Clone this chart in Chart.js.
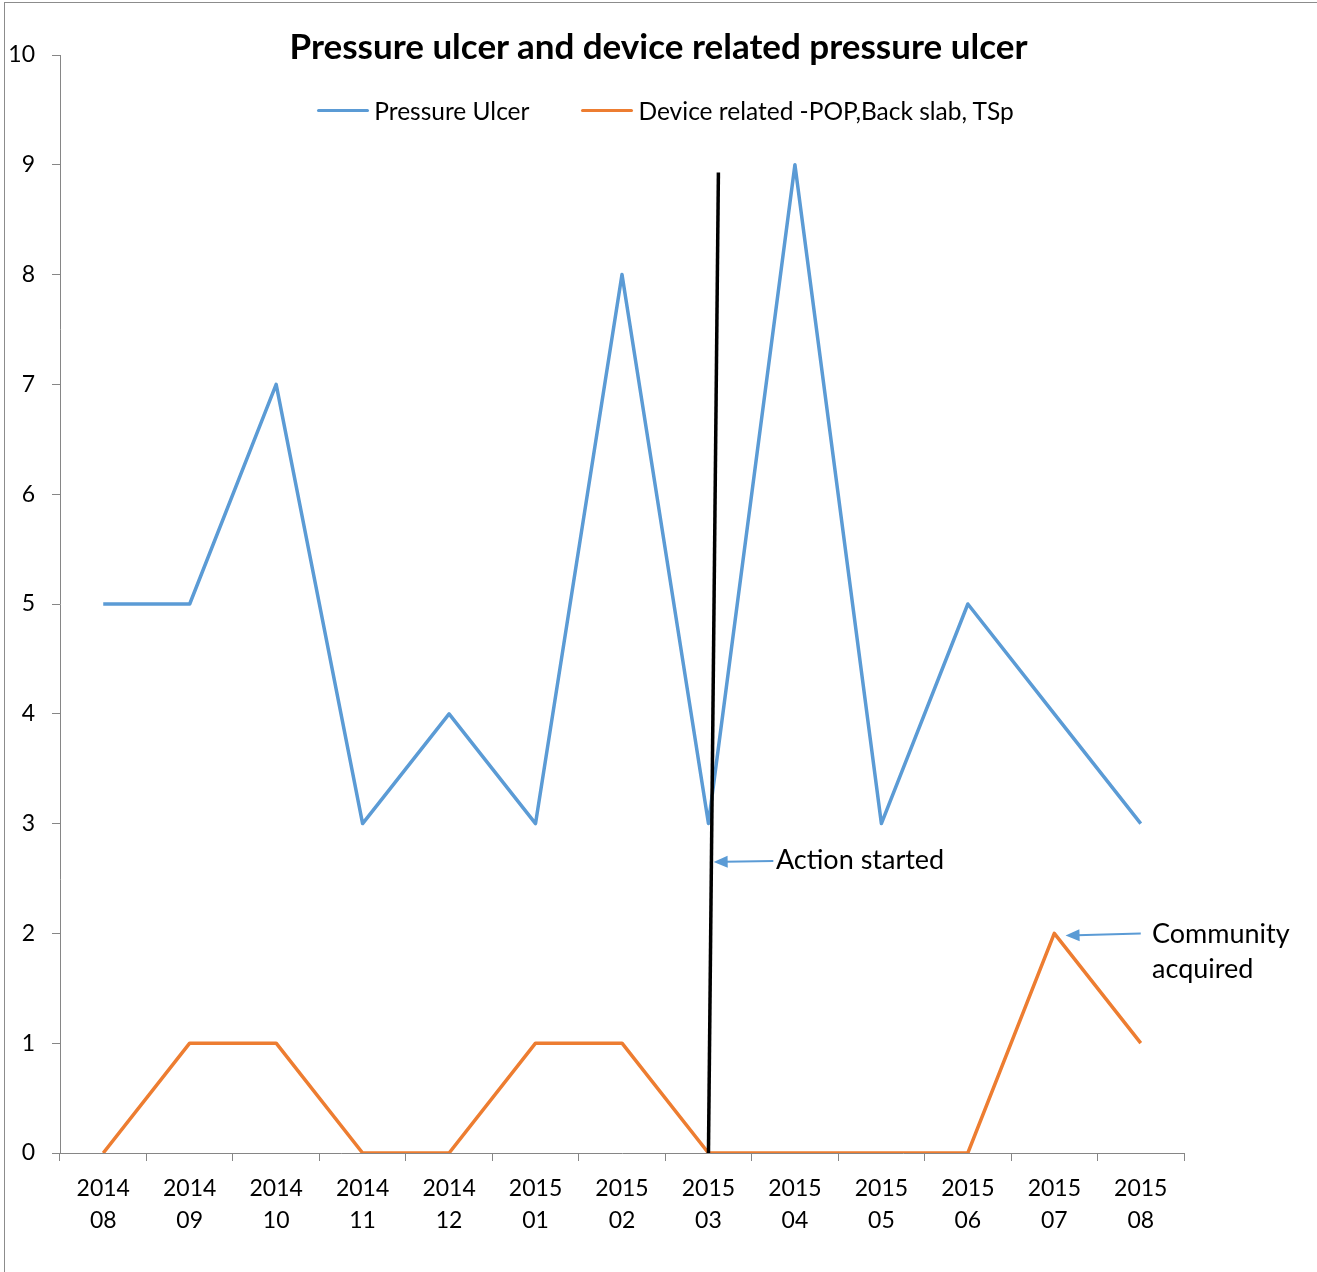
<!DOCTYPE html>
<html>
<head>
<meta charset="utf-8">
<script src="https://cdn.jsdelivr.net/npm/chart.js@4.4.0/dist/chart.umd.min.js"></script>
<style>
  body { margin: 0; background: #fff; font-family: Lato, sans-serif; }
  #wrap { position: relative; width: 1317px; height: 1272px; }
  #frame { position: absolute; left: 4px; top: 2px; right: 0; bottom: 0; border-top: 1px solid #8c8c8c; border-left: 1px solid #8c8c8c; pointer-events: none; }
  #title { position: absolute; top: 24px; left: 0; width: 1317px; text-align: center; font-weight: bold; font-size: 35px; color: #000; }
  #legend { position: absolute; top: 96px; left: 7px; width: 1317px; display: flex; justify-content: center; gap: 52px; font-size: 24.5px; color: #000; }
  .item { display: flex; align-items: center; }
  .swatch { width: 52px; height: 3px; margin-right: 5px; border-radius: 2px; }
</style>
</head>
<body>
<div id="wrap">
  <canvas id="chart" width="1317" height="1272"></canvas>
  <div id="frame"></div>
  <div id="title">Pressure ulcer and device related pressure ulcer</div>
  <div id="legend"></div>
</div>
<script>
// categories (year / month)
const months = [
  ['2014', '08'], ['2014', '09'], ['2014', '10'], ['2014', '11'], ['2014', '12'],
  ['2015', '01'], ['2015', '02'], ['2015', '03'], ['2015', '04'], ['2015', '05'],
  ['2015', '06'], ['2015', '07'], ['2015', '08']
];
const pressureUlcer = [5, 5, 7, 3, 4, 3, 8, 3, 9, 3, 5, 4, 3];
const deviceRelated = [0, 1, 1, 0, 0, 1, 1, 0, 0, 0, 0, 2, 1];
const seriesNames = ['Pressure Ulcer', 'Device related -POP,Back slab, TSp'];
const seriesColors = ['#5B9BD5', '#ED7D31'];
const yMin = 0, yMax = 10, yStep = 1;

// annotations, in data units (category index, value)
const actionLineX = [7, 7.115];
const actionLineY = [0, 8.93];
const actionArrowX = [7.75, 7.06];
const actionArrowY = [2.66, 2.65];
const actionText = 'Action started';
const actionTextPos = [7.78, 2.67];
const communityArrowX = [12.0, 11.13];
const communityArrowY = [2.0, 1.98];
const communityText = ['Community', 'acquired'];
const communityTextPos = [12.13, 1.99, 1.67];

// html legend
const legendBox = document.getElementById('legend');
seriesNames.forEach((name, i) => {
  const item = document.createElement('div');
  item.className = 'item';
  item.innerHTML = `<span class="swatch" style="background:${seriesColors[i]}"></span><span>${name}</span>`;
  legendBox.appendChild(item);
});

function drawArrow(ctx, x0, y0, x1, y1, color) {
  const ang = Math.atan2(y1 - y0, x1 - x0);
  const len = 14, half = 6;
  ctx.strokeStyle = color;
  ctx.fillStyle = color;
  ctx.lineWidth = 2;
  ctx.beginPath();
  ctx.moveTo(x0, y0);
  ctx.lineTo(x1 - Math.cos(ang) * len * 0.8, y1 - Math.sin(ang) * len * 0.8);
  ctx.stroke();
  ctx.beginPath();
  ctx.moveTo(x1, y1);
  ctx.lineTo(x1 - Math.cos(ang) * len + Math.sin(ang) * half, y1 - Math.sin(ang) * len - Math.cos(ang) * half);
  ctx.lineTo(x1 - Math.cos(ang) * len - Math.sin(ang) * half, y1 - Math.sin(ang) * len + Math.cos(ang) * half);
  ctx.closePath();
  ctx.fill();
}

const annotations = {
  id: 'annotations',
  afterDatasetsDraw(chart) {
    const { ctx, scales: { x, y } } = chart;
    ctx.save();
    // action started line
    ctx.strokeStyle = '#000';
    ctx.lineWidth = 3.5;
    ctx.beginPath();
    ctx.moveTo(x.getPixelForValue(actionLineX[0]), y.getPixelForValue(actionLineY[0]));
    ctx.lineTo(x.getPixelForValue(actionLineX[1]), y.getPixelForValue(actionLineY[1]));
    ctx.stroke();

    drawArrow(ctx, x.getPixelForValue(actionArrowX[0]), y.getPixelForValue(actionArrowY[0]),
      x.getPixelForValue(actionArrowX[1]), y.getPixelForValue(actionArrowY[1]), seriesColors[0]);
    drawArrow(ctx, x.getPixelForValue(communityArrowX[0]), y.getPixelForValue(communityArrowY[0]),
      x.getPixelForValue(communityArrowX[1]), y.getPixelForValue(communityArrowY[1]), seriesColors[0]);

    ctx.fillStyle = '#000';
    ctx.font = '27px Lato';
    ctx.textAlign = 'left';
    ctx.textBaseline = 'middle';
    ctx.fillText(actionText, x.getPixelForValue(actionTextPos[0]), y.getPixelForValue(actionTextPos[1]));
    ctx.fillText(communityText[0], x.getPixelForValue(communityTextPos[0]), y.getPixelForValue(communityTextPos[1]));
    ctx.fillText(communityText[1], x.getPixelForValue(communityTextPos[0]), y.getPixelForValue(communityTextPos[2]));
    ctx.restore();
  }
};

const axisColor = '#868686';

new Chart(document.getElementById('chart'), {
  type: 'line',
  data: {
    labels: months,
    datasets: [
      { label: seriesNames[0], data: pressureUlcer, borderColor: seriesColors[0], backgroundColor: seriesColors[0], borderWidth: 3.5, borderJoinStyle: 'round', pointRadius: 0, tension: 0 },
      { label: seriesNames[1], data: deviceRelated, borderColor: seriesColors[1], backgroundColor: seriesColors[1], borderWidth: 3.5, borderJoinStyle: 'round', pointRadius: 0, tension: 0 }
    ]
  },
  options: {
    responsive: false,
    animation: false,
    layout: { padding: { top: 55, right: 133, left: 0, bottom: 0 } },
    plugins: {
      legend: { display: false },
      title: { display: false },
      tooltip: { enabled: false }
    },
    scales: {
      x: {
        offset: true,
        grid: { offset: true, drawOnChartArea: false, drawTicks: true, tickLength: 8, color: axisColor },
        border: { color: axisColor, width: 1 },
        ticks: { color: '#000', font: { family: 'Lato', size: 23, lineHeight: 1.4 }, padding: 11, maxRotation: 0, autoSkip: false },
        afterFit(scale) { scale.height = 119; }
      },
      y: {
        min: yMin,
        max: yMax,
        grid: { drawOnChartArea: false, drawTicks: true, tickLength: 8, color: axisColor },
        border: { color: axisColor, width: 1 },
        ticks: { stepSize: yStep, color: '#000', font: { family: 'Lato', size: 23 }, padding: 17 },
        afterFit(scale) { scale.width = 60; }
      }
    }
  },
  plugins: [annotations]
});
</script>
</body>
</html>
